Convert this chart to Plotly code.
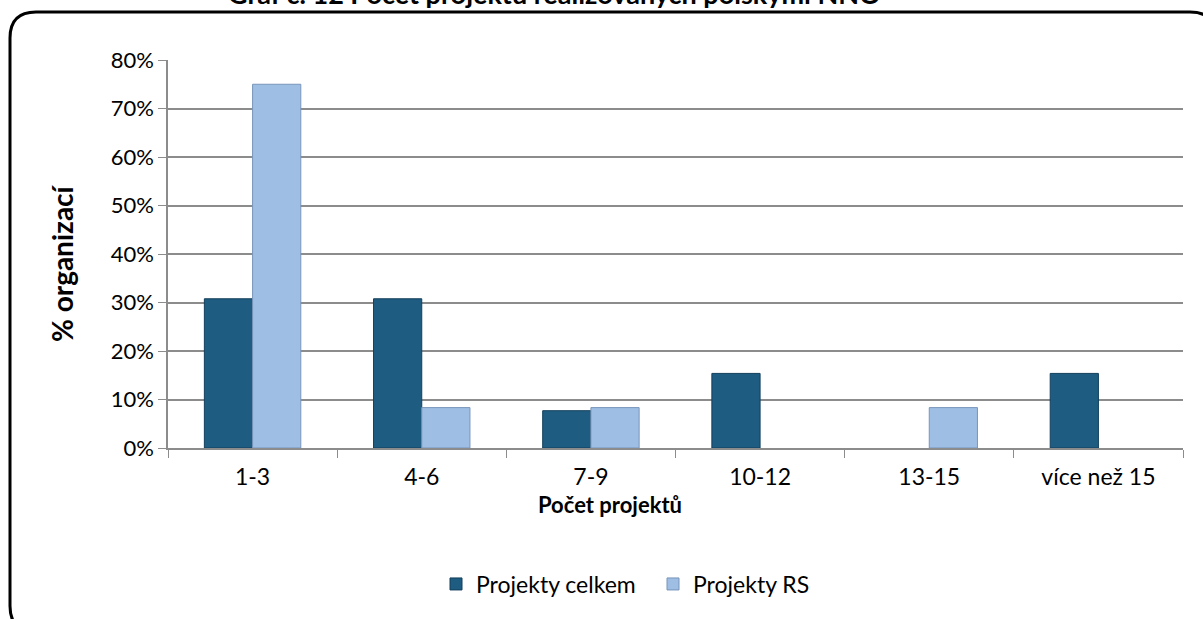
import plotly.graph_objects as go

categories = ["1-3", "4-6", "7-9", "10-12", "13-15", "více než 15"]
celkem = [0.3077, 0.3077, 0.0769, 0.1538, 0.0, 0.1538]
rs = [0.75, 0.0833, 0.0833, 0.0, 0.0833, 0.0]
y_ticks = [0, 0.1, 0.2, 0.3, 0.4, 0.5, 0.6, 0.7, 0.8]
y_ticklabels = ["0%", "10%", "20%", "30%", "40%", "50%", "60%", "70%", "80%"]

W, H = 1203, 619
L, R, T, B = 168, 1183, 60, 448
FONT = "Lato"

def px(x):
    return (x - L) / (R - L)

def py(y):
    return (B - y) / (B - T)

fig = go.Figure()
fig.add_trace(go.Bar(x=categories, y=celkem, name="Projekty celkem",
                     marker=dict(color="#1F5C81",
                                 line=dict(color="#123F5C", width=[1 if v > 0 else 0 for v in celkem]))))
fig.add_trace(go.Bar(x=categories, y=rs, name="Projekty RS",
                     marker=dict(color="#9EBEE3",
                                 line=dict(color="#7895BA", width=[1 if v > 0 else 0 for v in rs]))))

# rounded frame (pixel coords converted to paper)
r = 26
x0, y0, x1, y1 = 10, 12, 1216, 632
path = (f"M {px(x0)},{py(y0 + r)} "
        f"Q {px(x0)},{py(y0)} {px(x0 + r)},{py(y0)} "
        f"L {px(x1 - r)},{py(y0)} "
        f"Q {px(x1)},{py(y0)} {px(x1)},{py(y0 + r)} "
        f"L {px(x1)},{py(y1 - r)} "
        f"Q {px(x1)},{py(y1)} {px(x1 - r)},{py(y1)} "
        f"L {px(x0 + r)},{py(y1)} "
        f"Q {px(x0)},{py(y1)} {px(x0)},{py(y1 - r)} Z")
fig.add_shape(type="path", xref="paper", yref="paper", path=path,
              line=dict(color="black", width=3), layer="above")

fig.add_annotation(text="<b>Graf č. 12 Počet projektů realizovaných polskými NNO</b>",
                   xref="paper", yref="paper", x=px(554), y=py(12),
                   xanchor="center", yanchor="bottom", showarrow=False,
                   font=dict(family=FONT, size=27, color="black"))
fig.add_annotation(text="<b>Počet projektů</b>",
                   xref="paper", yref="paper", x=px(610), y=py(504),
                   xanchor="center", yanchor="middle", showarrow=False,
                   font=dict(family=FONT, size=22, color="black"))
fig.add_annotation(text="<b>% organizací</b>", textangle=-90,
                   xref="paper", yref="paper", x=px(62), y=py(263),
                   xanchor="center", yanchor="middle", showarrow=False,
                   font=dict(family=FONT, size=28, color="black"))

fig.update_layout(
    width=W, height=H,
    margin=dict(l=L, r=W - R, t=T, b=H - B, pad=0),
    paper_bgcolor="white", plot_bgcolor="white",
    barmode="group", bargap=0.43, bargroupgap=0,
    font=dict(family=FONT, color="black"),
    showlegend=True,
    legend=dict(orientation="h", x=px(653), y=py(584), xanchor="center", yanchor="middle",
                font=dict(size=23, family=FONT), itemwidth=30, tracegroupgap=0,
                entrywidthmode="pixels", entrywidth=172),
    xaxis=dict(type="category",
               tickfont=dict(size=23), showline=True, linecolor="#8C8C8C", linewidth=1.5,
               ticks="outside", tickson="boundaries", ticklen=8, tickcolor="#8C8C8C",
               ticklabelstandoff=8, showgrid=False),
    yaxis=dict(range=[0, 0.8], tickvals=y_ticks, ticktext=y_ticklabels,
               tickfont=dict(size=22), showline=True, linecolor="#8C8C8C", linewidth=1.5,
               ticks="outside", ticklen=8, tickcolor="#8C8C8C",
               showgrid=True, gridcolor="#8C8C8C", gridwidth=1.5, zeroline=False),
)

fig.write_html("out.html", config={"displayModeBar": False},
               post_script="document.body.style.margin='0';")
